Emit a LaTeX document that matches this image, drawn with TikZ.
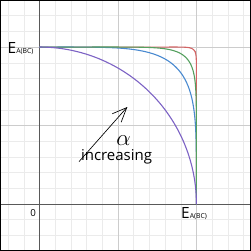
\documentclass[tikz,border=0pt]{standalone}
\usepackage{fontspec}
\setmainfont{Open Sans}
\usetikzlibrary{arrows.meta}
\definecolor{crvred}{HTML}{D26464}
\definecolor{crvblue}{HTML}{4A8AD0}
\definecolor{crvgreen}{HTML}{55A05F}
\definecolor{crvpurple}{HTML}{7C62C4}

\begin{document}
\begin{tikzpicture}[x=0.5cm, y=0.5cm,
  minorgrid/.style={draw=black!8, line width=0.4pt},
  majorgrid/.style={draw=black!20, line width=0.6pt},
  axisline/.style={draw=black!65, line width=0.6pt},
  curve/.style={line width=1pt, line cap=round},
  lbl/.style={inner sep=0pt, outer sep=0pt}]
  \useasboundingbox (-2.52,-3) rectangle (13.48,13);
  \clip (-2.52,-3) rectangle (13.48,13);
  % grid and axes
  \foreach \i in {-2,...,13} \draw[minorgrid] (\i,-3) -- (\i,13);
  \foreach \j in {-3,...,13} \draw[minorgrid] (-2.52,\j) -- (13.48,\j);
  \foreach \i in {5,10} {
    \draw[majorgrid] (\i,-3) -- (\i,13);
    \draw[majorgrid] (-2.52,\i) -- (13.48,\i);
  }
  \draw[axisline] (0,-3) -- (0,13);
  \draw[axisline] (-2.52,0) -- (13.48,0);
  % curves x^n + y^n = 10^n
  \foreach \n/\col in {40/crvred, 5/crvblue, 10/crvgreen, 2/crvpurple} {
    \pgfmathsetmacro\d{10*0.5^(1/\n)}
    \draw[curve, \col] plot[domain=0:\d, samples=80] (\x, {10*(1-(\x/10)^\n)^(1/\n)})
      -- plot[domain=\d:0, samples=80] ({10*(1-(\x/10)^\n)^(1/\n)}, \x);
  }
  % labels
  \node[lbl, anchor=base west] (lblEtop) at (-2.03,9.61)
    {\fontsize{14}{14}\selectfont E\raisebox{-0.4pt}{\fontsize{6.2}{6.2}\selectfont A(BC)}};
  \node[lbl, anchor=base west] (lblEright) at (9.03,-0.91)
    {\fontsize{14}{14}\selectfont E\raisebox{-0.4pt}{\fontsize{6.2}{6.2}\selectfont A(BC)}};
  \node[lbl, anchor=base, font=\fontsize{8.8}{8.8}\selectfont] (lblzero) at (-0.40,-0.77) {0};
  \node[lbl, anchor=base, font=\fontsize{13.6}{13.6}\selectfont] (lblinc) at (4.91,2.76) {increasing};
  \node[lbl, font=\fontsize{21}{21}\selectfont] (lblalpha) at (5.36,4.05) {$\alpha$};
  % arrow
  \coordinate (arrstart) at (2.52,2.70);
  \coordinate (arrtip) at (5.56,6.14);
  \draw[line width=0.6pt] (arrstart) -- (arrtip);
  \draw[line width=0.6pt, line join=miter] (arrtip) ++(203:1) -- (arrtip) -- ++(249:1);
  % frame
  \draw[line width=2.6pt] (-2.52,-3) rectangle (13.48,13);
\end{tikzpicture}
\end{document}
